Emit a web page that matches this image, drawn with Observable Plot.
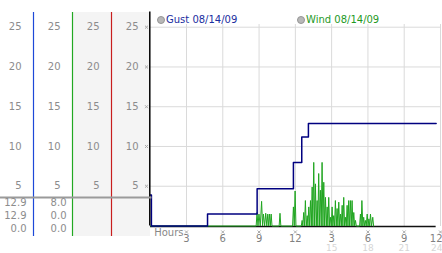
<!DOCTYPE html>
<html><head><meta charset="utf-8">
<script src="https://cdn.jsdelivr.net/npm/d3@7"></script>
<script src="https://cdn.jsdelivr.net/npm/@observablehq/plot@0.6"></script>
<style>
html,body{margin:0;padding:0;background:#fff;}
#wrap{position:relative;width:442px;height:253px;overflow:hidden;font-family:"DejaVu Sans",Verdana,sans-serif;}
#wrap > svg{position:absolute;left:0;top:0;}
.legend{position:absolute;top:14px;font-size:10px;line-height:12px;white-space:nowrap;display:flex;align-items:center;}
.legend i{display:inline-block;width:6px;height:6px;border-radius:50%;background:#b8b8b8;border:1px solid #959595;margin-right:1px;}
</style></head><body><div id="wrap"></div>
<script>
// ---- data ----
const gustHours  = [0, 0.1, 4.74, 8.84, 11.84, 12.53, 13.08, 23.64];
const gustValues = [3.9, 0, 1.5, 4.7, 8.0, 11.2, 12.9, 12.9];
const windReadings = [
  [0,0],[8.76,0],[8.83,1.7],[8.91,0],[8.99,1.5],[9.10,0],[9.21,3.1],[9.29,0],[9.36,1.5],[9.46,0],
  [9.55,1.6],[9.64,0],[9.72,1.5],[9.79,0],[9.86,1.5],[9.93,0],[10.0,1.5],[10.07,0],[10.66,0],[10.73,1.6],
  [10.80,0],[11.77,0],[11.84,2.4],[11.91,0],[11.98,4.4],[12.05,0],[12.49,0],[12.56,0.7],[12.62,0],[12.69,1.7],
  [12.76,0],[12.83,3.2],[12.90,0],[12.98,1.3],[13.04,0],[13.11,2.4],[13.18,0],[13.25,3.2],[13.32,0],[13.39,4.9],
  [13.45,0],[13.52,8.0],[13.59,0],[13.66,5.3],[13.73,0],[13.80,3.2],[13.86,0],[13.93,6.6],[14.0,0],[14.07,4.5],
  [14.14,0],[14.21,8.0],[14.28,0],[14.35,5.5],[14.42,0],[14.49,3.6],[14.56,0],[14.63,2.4],[14.69,0],[14.76,3.6],
  [14.83,0],[14.90,1.1],[14.97,0],[15.04,2.4],[15.10,0],[15.17,1.3],[15.24,0],[15.31,3.2],[15.38,0],[15.45,2.2],
  [15.52,0],[15.59,3.0],[15.66,0],[15.73,1.5],[15.80,0],[15.87,2.6],[15.93,0],[16.0,3.6],[16.07,0],[16.14,1.1],
  [16.21,0],[16.28,2.6],[16.35,0],[16.41,3.2],[16.48,0],[16.55,3.2],[16.62,0],[16.69,3.2],[16.76,0],[16.83,1.7],
  [16.90,0],[16.97,0.7],[17.04,0],[17.31,0],[17.38,1.5],[17.44,0],[17.50,3.2],[17.58,0],[17.65,1.1],[17.72,0],
  [17.79,0.7],[17.86,0],[17.94,1.5],[18.01,0],[18.08,0.9],[18.15,0],[18.21,1.5],[18.30,0],[18.40,1.1],[18.47,0]
];
const yTicks = [5, 10, 15, 20, 25];
const xTicks = [3, 6, 9, 12, 15, 18, 21, 24];
const xTickLabels = ["3", "6", "9", "12", "3", "6", "9", "12"];
const xNextDayTicks = [15, 18, 21, 24];
const xNextDayLabels = ["15", "18", "21", "24"];
const xAxisTitle = "Hours";
const panelColumns = ["Gust", "Wind", "Dir", "Other"];
const statRows = ["max", "last", "min"];
const gustStats = ["12.9", "12.9", "0.0"];
const windStats = ["8.0", "0.0", "0.0"];
const legendLabels = ["Gust 08/14/09", "Wind 08/14/09"];

// ---- styles ----
const W = 442, H = 253;
const FONT = {fontFamily: "'DejaVu Sans', Verdana, sans-serif", fontSize: "10px", background: "transparent", overflow: "visible"};
const gustColor = "#000080", windColor = "#1fa51f";
const yScale = {domain: [0, 25], range: [225.5, 26.7]};
const axisTopValue = 26.9;
const lastTick = d => d === 24;

const wrap = document.getElementById("wrap");

// main chart
const main = Plot.plot({
  width: W, height: H, marginTop: 24, marginBottom: 27, marginLeft: 150, marginRight: 2,
  style: FONT,
  x: {domain: [0, 24], range: [149.7, 440], axis: null},
  y: {...yScale, axis: null},
  marks: [
    Plot.ruleX(xTicks, {stroke: "#dadada"}),
    Plot.ruleY(yTicks, {x1: 0, x2: 24, stroke: "#dadada"}),
    Plot.ruleY([0], {x1: 0, x2: gustHours[gustHours.length - 1], stroke: "#111", strokeWidth: 1.5, dy: 0.5}),
    Plot.line(windReadings, {x: d => d[0], y: d => d[1], stroke: windColor, strokeWidth: 1}),
    Plot.line(gustHours, {x: d => d, y: (d, i) => gustValues[i], curve: "step-after", stroke: gustColor, strokeWidth: 1.5}),
    Plot.dot(xTicks, {x: d => d, y: () => 0, dy: 6, symbol: "times", r: 1.5, stroke: "#aaa", strokeWidth: 1}),
    Plot.text(xTicks.filter(d => !lastTick(d)), {x: d => d, y: () => 0, dy: 12.5, text: d => xTickLabels[xTicks.indexOf(d)], fill: "#808080"}),
    Plot.text(xTicks.filter(lastTick), {x: d => d, y: () => 0, dy: 12.5, dx: 2, textAnchor: "end", text: d => xTickLabels[xTicks.indexOf(d)], fill: "#808080"}),
    Plot.text(xNextDayTicks.filter(d => !lastTick(d)), {x: d => d, y: () => 0, dy: 22, fontSize: 9, text: d => xNextDayLabels[xNextDayTicks.indexOf(d)], fill: "#d6d6d6"}),
    Plot.text(xNextDayTicks.filter(lastTick), {x: d => d, y: () => 0, dy: 22, dx: 2, fontSize: 9, textAnchor: "end", text: d => xNextDayLabels[xNextDayTicks.indexOf(d)], fill: "#d6d6d6"}),
    Plot.text([xAxisTitle], {x: () => 0, y: () => 0, dx: 4, dy: 7, textAnchor: "start", fill: "#888"})
  ]
});
wrap.appendChild(main);

// left value panel
const labelCells = panelColumns.flatMap((c, i) => yTicks.map(v => ({col: i + 1, v})));
const left = Plot.plot({
  width: 150, height: H, marginTop: 12, marginBottom: 17, marginLeft: 0, marginRight: 0,
  style: FONT,
  x: {domain: [0, 4], range: [-6, 150], axis: null},
  y: {...yScale, axis: null},
  marks: [
    Plot.rect([{a: 2, b: 4}], {x1: "a", x2: "b", fill: "#f4f4f4"}),
    Plot.ruleX([1], {stroke: "#1d48d8", strokeWidth: 1.2}),
    Plot.ruleX([2], {stroke: "#22a822", strokeWidth: 1.2}),
    Plot.ruleX([3], {stroke: "#c81e1e", strokeWidth: 1.2}),
    Plot.ruleX([4], {y1: 0, y2: axisTopValue, stroke: "#000", strokeWidth: 1.5, dx: -0.7}),
    Plot.text(labelCells, {x: "col", y: "v", text: d => String(d.v), dx: -12, textAnchor: "end", fill: "#8c8c8c"}),
    Plot.dot(yTicks, {x: () => 4, y: d => d, dx: -4, symbol: "times", r: 1.5, stroke: "#aaa", strokeWidth: 1})
  ]
});
wrap.appendChild(left);

// stats table under the panel
const stats = Plot.plot({
  width: 150, height: 57, marginTop: 1, marginBottom: 0, marginLeft: 0, marginRight: 0,
  style: FONT,
  x: {domain: [0, 4], range: [-6, 150], axis: null},
  y: {type: "point", domain: statRows, range: [6, 32], padding: 0, axis: null},
  marks: [
    Plot.frame({anchor: "top", stroke: "#9a9a9a", strokeWidth: 2}),
    Plot.text(statRows, {x: () => 1, y: d => d, text: (d, i) => gustStats[i], dx: -7, textAnchor: "end", fill: "#8c8c8c"}),
    Plot.text(statRows, {x: () => 2, y: d => d, text: (d, i) => windStats[i], dx: -6, textAnchor: "end", fill: "#8c8c8c"})
  ]
});
stats.style.top = "196px";
wrap.appendChild(stats);

// legend
const legendPos = [157, 297];
const legendColors = ["#1a2ea0", "#1f9a1f"];
legendLabels.forEach((t, i) => {
  const d = document.createElement("div");
  d.className = "legend";
  d.style.left = legendPos[i] + "px";
  d.style.color = legendColors[i];
  d.innerHTML = "<i></i>";
  d.appendChild(document.createTextNode(t));
  wrap.appendChild(d);
});
</script></body></html>
